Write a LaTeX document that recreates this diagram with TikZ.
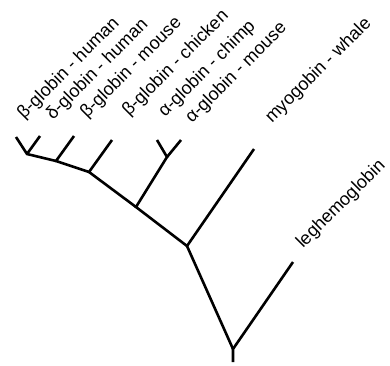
\documentclass[tikz,border=0pt]{standalone}
\usepackage{fontspec}
\setmainfont{Liberation Sans}
\begin{document}
\begin{tikzpicture}[x=1pt,y=-1pt,
  branch/.style={line width=2.6pt, line join=miter},
  lbl/.style={anchor=base west, rotate=45, inner sep=0pt, font=\fontsize{18}{19}\selectfont}]
\useasboundingbox (0,0) rectangle (390,365);
% tree points
\coordinate (R0) at (233,362);
\coordinate (R) at (233,349);
\coordinate (Lt) at (293,262);
\coordinate (A) at (187,246);
\coordinate (Mt) at (254,149);
\coordinate (B) at (136,207);
\coordinate (Al) at (167,157);
\coordinate (Act) at (157,140);
\coordinate (Amt) at (181,140);
\coordinate (C) at (89,172);
\coordinate (Bct) at (112,140);
\coordinate (D) at (56,161);
\coordinate (Bmt) at (74,136);
\coordinate (E) at (27,154);
\coordinate (Bht) at (16,137);
\coordinate (Dht) at (40,136);
% branches
\draw[branch] (R0) -- (R) -- (Lt);
\draw[branch] (R) -- (A) -- (Mt);
\draw[branch] (A) -- (B) -- (Al) -- (Act);
\draw[branch] (Al) -- (Amt);
\draw[branch] (B) -- (C) -- (Bct);
\draw[branch] (C) -- (D) -- (Bmt);
\draw[branch] (D) -- (E) -- (Bht);
\draw[branch] (E) -- (Dht);
% labels
\node[lbl] (l1) at (24,120) {β-globin - human};
\node[lbl] (l2) at (53,121) {δ-globin - human};
\node[lbl] (l3) at (87,119) {β-globin - mouse};
\node[lbl] (l4) at (129,117) {β-globin - chicken};
\node[lbl] (l5) at (165,118) {α-globin - chimp};
\node[lbl] (l6) at (192,124) {α-globin - mouse};
\node[lbl] (l7) at (272,124) {myogobin - whale};
\node[lbl] (l8) at (303,249) {leghemoglobin};
\end{tikzpicture}
\end{document}
